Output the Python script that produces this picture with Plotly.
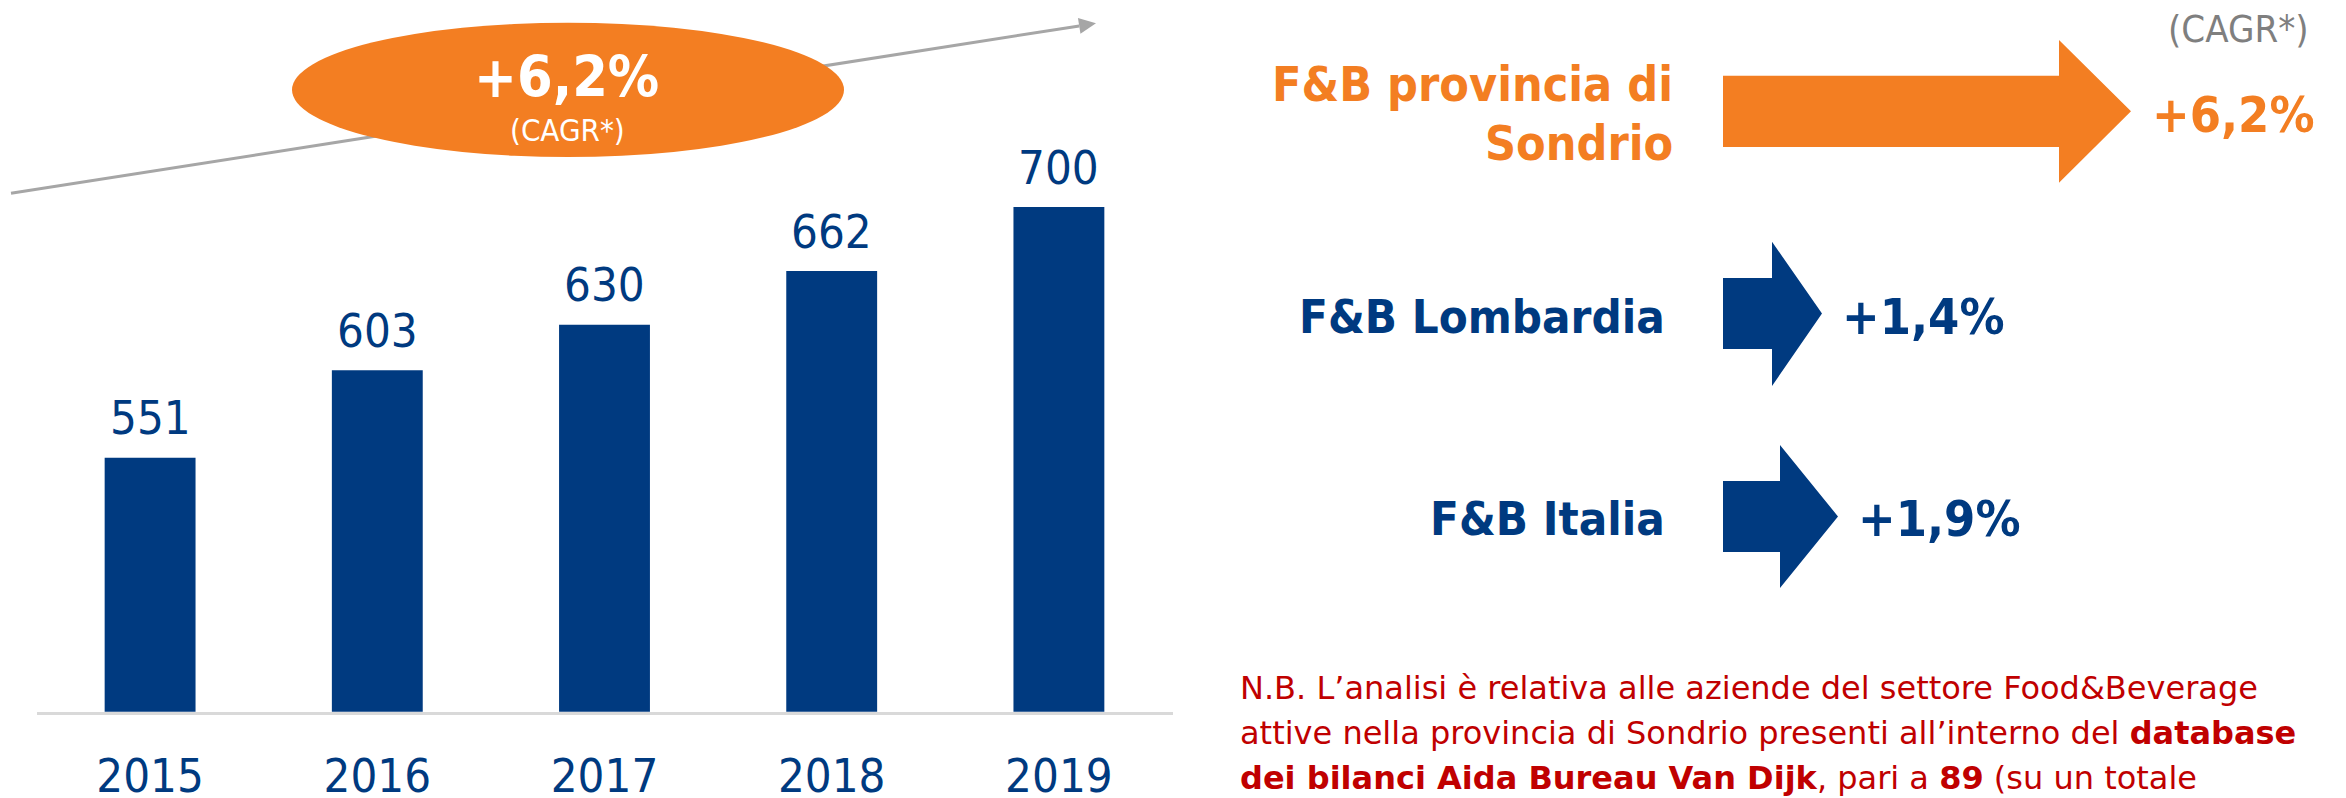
import plotly.graph_objects as go

W, H = 2346, 798

# ---- data ----
years = ["2015", "2016", "2017", "2018", "2019"]
values = [551, 603, 630, 662, 700]
cagr_main = "+6,2%"
cagr_note = "(CAGR*)"
compare_labels = ["F&B provincia di", "Sondrio", "F&B Lombardia", "F&B Italia"]
compare_values = ["+6,2%", "+1,4%", "+1,9%"]
note_lines = [
    "N.B. L’analisi è relativa alle aziende del settore Food&Beverage",
    "attive nella provincia di Sondrio presenti all’interno del <b>database</b>",
    "<b>dei bilanci Aida Bureau Van Dijk</b>, pari a <b>89</b> (su un totale",
]

NAVY = "#003A80"
ORANGE = "#F37E22"
GRAY = "#A6A6A6"
RED = "#C00000"
FONT = "DejaVu Sans Condensed, DejaVu Sans, sans-serif"
FONT_WIDE = "DejaVu Sans, sans-serif"


def px(x):
    return x / W


def py(y):
    return 1 - y / H


fig = go.Figure()
fig.add_trace(go.Bar(x=years, y=values, width=0.4, marker=dict(color=NAVY, line=dict(width=0)),
                     hoverinfo="skip"))

annotations = []
for i, v in enumerate(values):
    annotations.append(dict(x=i, y=v, xref="x", yref="y", text=str(v), showarrow=False,
                            yanchor="middle", yshift=40,
                            font=dict(family=FONT, size=47, color=NAVY)))


def txt(x, y, text, size, color, anchor="center", bold=False, family=FONT):
    t = f"<b>{text}</b>" if bold else text
    return dict(x=px(x), y=py(y), xref="paper", yref="paper", text=t, showarrow=False,
                xanchor=anchor, yanchor="middle", font=dict(family=family, size=size, color=color))


# ellipse texts
annotations.append(txt(566, 77, cagr_main, 57, "white", bold=True))
annotations.append(txt(567, 130, cagr_note, 31, "white"))
# right panel
annotations.append(txt(2238, 29, cagr_note, 38, "#7F7F7F"))
annotations.append(txt(2150, 115, compare_values[0], 50, ORANGE, anchor="left", bold=True))
annotations.append(txt(1675, 84, compare_labels[0], 48, ORANGE, anchor="right", bold=True))
annotations.append(txt(1675, 143, compare_labels[1], 48, ORANGE, anchor="right", bold=True))
annotations.append(txt(1667, 316, compare_labels[2], 47, NAVY, anchor="right", bold=True))
annotations.append(txt(1840, 317, compare_values[1], 50, NAVY, anchor="left", bold=True))
annotations.append(txt(1667, 518, compare_labels[3], 47, NAVY, anchor="right", bold=True))
annotations.append(txt(1856, 519, compare_values[2], 50, NAVY, anchor="left", bold=True))
for line, yc in zip(note_lines, [688, 733, 778]):
    annotations.append(txt(1238, yc, line, 32, RED, anchor="left", family=FONT_WIDE))

shapes = []
# CAGR trend arrow (line + head)
sx, sy, tx, ty = 11, 193.3, 1096, 23.3
dx, dy = tx - sx, ty - sy
L = (dx ** 2 + dy ** 2) ** 0.5
ux, uy = dx / L, dy / L
hl, hw = 17, 8
bx, by = tx - hl * ux, ty - hl * uy
shapes.append(dict(type="line", xref="paper", yref="paper", x0=px(sx), y0=py(sy), x1=px(bx), y1=py(by),
                   line=dict(color=GRAY, width=3), layer="above"))
p1 = (bx - hw * uy, by + hw * ux)
p2 = (bx + hw * uy, by - hw * ux)
shapes.append(dict(type="path", xref="paper", yref="paper",
                   path=f"M{px(tx)},{py(ty)} L{px(p1[0])},{py(p1[1])} L{px(p2[0])},{py(p2[1])} Z",
                   fillcolor=GRAY, line=dict(width=0), layer="above"))
# ellipse
shapes.append(dict(type="circle", xref="paper", yref="paper", x0=px(292), x1=px(844), y0=py(22.7), y1=py(157),
                   fillcolor=ORANGE, line=dict(width=0), layer="above"))


def block_arrow(x0, xh, xt, yb0, yb1, yh0, yh1, color):
    ym = (yb0 + yb1) / 2
    pts = [(x0, yb0), (xh, yb0), (xh, yh0), (xt, ym), (xh, yh1), (xh, yb1), (x0, yb1)]
    path = "M" + " L".join(f"{px(a)},{py(b)}" for a, b in pts) + " Z"
    return dict(type="path", xref="paper", yref="paper", path=path, fillcolor=color,
                line=dict(width=0), layer="above")


shapes.append(block_arrow(1723, 2059, 2131, 75.7, 147, 40, 182.7, ORANGE))
shapes.append(block_arrow(1723, 1772, 1822, 278, 349, 241.7, 386, NAVY))
shapes.append(block_arrow(1723, 1780, 1838, 481, 552, 445, 588, NAVY))

fig.update_layout(
    width=W, height=H, margin=dict(l=0, r=0, t=0, b=0, autoexpand=False),
    paper_bgcolor="white", plot_bgcolor="white", showlegend=False,
    xaxis=dict(type="category", domain=[36.5 / W, 1172.5 / W], range=[-0.5, 4.5],
               showline=True, linecolor="#D9D9D9", linewidth=3,
               ticks="outside", ticklen=21, tickcolor="rgba(0,0,0,0)", showgrid=False,
               zeroline=False, automargin=False,
               tickfont=dict(family=FONT, size=47, color=NAVY), fixedrange=True),
    yaxis=dict(range=[400, 400 + 711.7 / 1.682], domain=[1 - 711.7 / H, 1], visible=False,
               automargin=False, fixedrange=True),
    annotations=annotations, shapes=shapes, bargap=0.6,
)

fig.write_html("out.html", config={"displayModeBar": False},
               post_script="document.body.style.margin='0';document.body.style.overflow='hidden';")
